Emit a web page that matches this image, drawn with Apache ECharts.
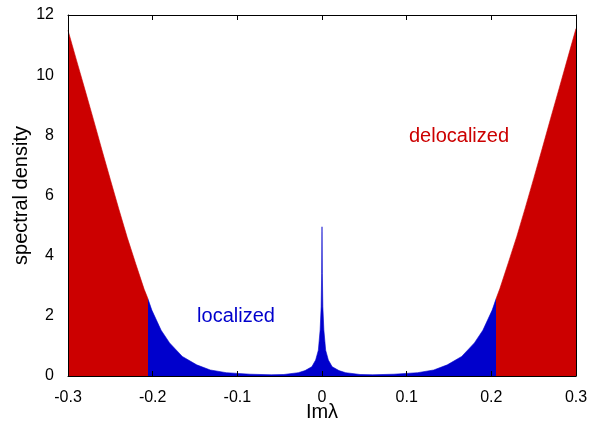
<!DOCTYPE html>
<html>
<head>
<meta charset="utf-8">
<script src="https://cdn.jsdelivr.net/npm/echarts@6/dist/echarts.min.js"></script>
<style>
  html, body { margin: 0; padding: 0; background: #fff; }
  #chart { width: 592px; height: 423px; }
</style>
</head>
<body>
<div id="chart"></div>
<script>
// Im(lambda) sample positions and the spectral density at each of them
const imLambda = [
  -0.300, -0.290, -0.280, -0.270, -0.260, -0.250, -0.240, -0.230, -0.220, -0.210, -0.206,
  -0.201, -0.190, -0.180, -0.165, -0.148, -0.132, -0.113, -0.085, -0.060, -0.045,
  -0.028, -0.020, -0.012, -0.0075, -0.0043, -0.0022, -0.0010, -0.0004,
  0,
  0.0004, 0.0010, 0.0022, 0.0043, 0.0075, 0.012, 0.020, 0.028,
  0.045, 0.060, 0.085, 0.113, 0.132, 0.148, 0.165, 0.180, 0.190, 0.201,
  0.206, 0.210, 0.220, 0.230, 0.240, 0.250, 0.260, 0.270, 0.280, 0.290, 0.300
];
const density = [
  11.49, 10.50, 9.52, 8.53, 7.52, 6.53, 5.55, 4.60, 3.73, 2.88, 2.60,
  2.19, 1.52, 1.10, 0.65, 0.37, 0.20, 0.11, 0.06, 0.04, 0.05,
  0.11, 0.18, 0.31, 0.53, 0.86, 1.53, 2.30, 3.40,
  4.96,
  3.40, 2.30, 1.53, 0.86, 0.53, 0.31, 0.18, 0.11,
  0.05, 0.04, 0.06, 0.11, 0.20, 0.37, 0.65, 1.10, 1.52, 2.19,
  2.60, 2.90, 3.76, 4.63, 5.58, 6.56, 7.55, 8.56, 9.55, 10.55, 11.55
];
// mobility edge separating localized from delocalized states
const mobilityEdge = 0.206;

const xTicks = [-0.3, -0.2, -0.1, 0, 0.1, 0.2, 0.3];
const yTicks = [0, 2, 4, 6, 8, 10, 12];

const RED = '#cc0000';
const BLUE = '#0000cc';
const FONT = 'Liberation Sans, Helvetica, Arial, sans-serif';

const points = imLambda.map((x, i) => [x, density[i]]);

const fmt = v => String(+v.toFixed(1));

const chart = echarts.init(document.getElementById('chart'), null, { renderer: 'canvas' });
chart.setOption({
  animation: false,
  backgroundColor: '#fff',
  grid: { left: 68, right: 16, top: 15, bottom: 47, containLabel: false, outerBoundsMode: 'none' },
  // colour the density by region: delocalized beyond the mobility edge, localized inside
  visualMap: {
    type: 'piecewise', show: false, dimension: 0, seriesIndex: 0,
    pieces: [
      { lt: -mobilityEdge, color: RED },
      { gte: -mobilityEdge, lte: mobilityEdge, color: BLUE },
      { gt: mobilityEdge, color: RED }
    ]
  },
  xAxis: [
    {
      type: 'value', position: 'bottom',
      min: xTicks[0], max: xTicks[xTicks.length - 1], interval: 0.1,
      z: 10,
      name: 'Imλ', nameLocation: 'middle', nameGap: 26, nameMoveOverlap: false,
      nameTextStyle: { fontFamily: FONT, fontSize: 20, color: '#000' },
      axisLine: { show: true, onZero: false, lineStyle: { color: '#000', width: 1 } },
      axisTick: { show: true, inside: true, length: 5, lineStyle: { color: '#000' } },
      axisLabel: { fontFamily: FONT, fontSize: 16, color: '#000', margin: 14, formatter: fmt },
      splitLine: { show: false }
    },
    {
      type: 'value', position: 'top',
      min: xTicks[0], max: xTicks[xTicks.length - 1], interval: 0.1,
      z: 10,
      axisLine: { show: true, onZero: false, lineStyle: { color: '#000', width: 1 } },
      axisTick: { show: true, inside: true, length: 5, lineStyle: { color: '#000' } },
      axisLabel: { show: false },
      splitLine: { show: false }
    }
  ],
  yAxis: [
    {
      type: 'value', position: 'left',
      min: yTicks[0], max: yTicks[yTicks.length - 1], interval: 2,
      z: 10,
      name: 'spectral density', nameLocation: 'middle', nameGap: 37, nameRotate: 90, nameMoveOverlap: false,
      nameTextStyle: { fontFamily: FONT, fontSize: 20, color: '#000' },
      axisLine: { show: true, onZero: false, lineStyle: { color: '#000', width: 1 } },
      axisTick: { show: false },
      axisLabel: { fontFamily: FONT, fontSize: 16, color: '#000', margin: 14 },
      splitLine: { show: false }
    },
    {
      type: 'value', position: 'right',
      min: yTicks[0], max: yTicks[yTicks.length - 1], interval: 2,
      z: 10,
      axisLine: { show: true, onZero: false, lineStyle: { color: '#000', width: 1 } },
      axisTick: { show: false },
      axisLabel: { show: false },
      splitLine: { show: false }
    }
  ],
  series: [
    {
      type: 'line',
      data: points,
      showSymbol: false,
      smooth: false,
      silent: true,
      lineStyle: { width: 0.6 },
      areaStyle: { opacity: 1 },
      z: 2
    }
  ],
  graphic: [
    {
      type: 'text', x: 236, y: 316,
      style: { text: 'localized', fill: BLUE, font: '20px ' + FONT, textAlign: 'center', textVerticalAlign: 'middle' }
    },
    {
      type: 'text', x: 459, y: 136,
      style: { text: 'delocalized', fill: RED, font: '20px ' + FONT, textAlign: 'center', textVerticalAlign: 'middle' }
    }
  ]
});
</script>
</body>
</html>
